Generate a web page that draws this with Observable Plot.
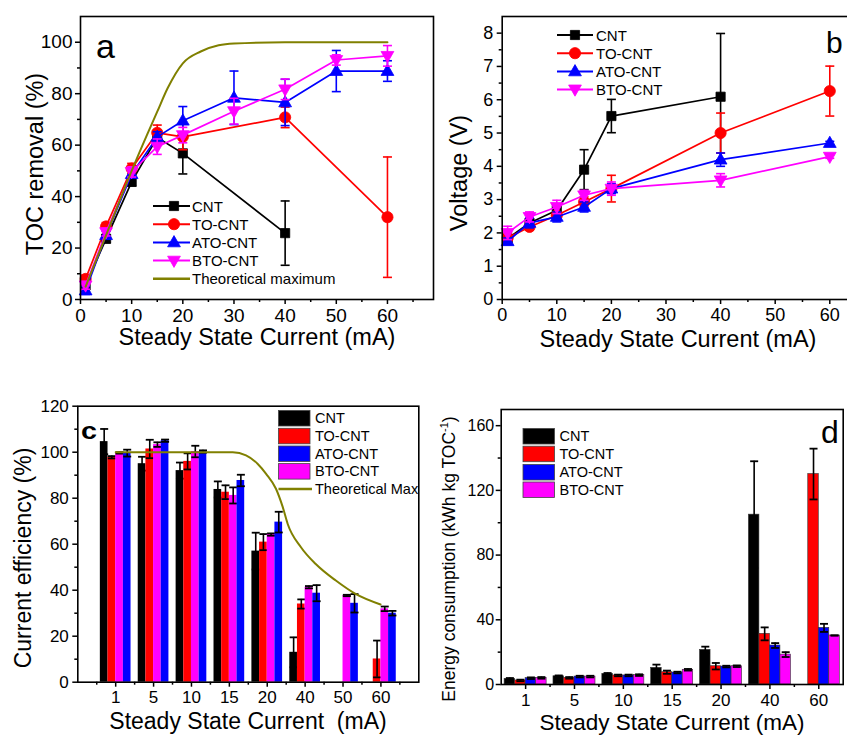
<!DOCTYPE html>
<html><head><meta charset="utf-8">
<script src="https://cdn.jsdelivr.net/npm/d3@7"></script>
<script src="https://cdn.jsdelivr.net/npm/@observablehq/plot@0.6"></script>
<style>
body{margin:0;background:#fff;}
#root{position:relative;width:847px;height:735px;overflow:hidden;background:#fff;}
#root svg{position:absolute;}
</style></head><body><div id="root"></div>
<script>
// ---------------- DATA ----------------
const seriesNames = ["CNT", "TO-CNT", "ATO-CNT", "BTO-CNT"];

// Panel a: TOC removal (%)
const tocCNT_x = [1, 5, 10, 15, 20, 40];
const tocCNT   = [5.5, 23.6, 45.7, 63, 56.8, 25.8];
const tocCNT_e = [2.5, 1.5, 1.5, 2.5, 8, 12.5];
const tocTO_x  = [1, 5, 10, 15, 20, 40, 60];
const tocTO    = [8, 28.4, 50.9, 64.8, 63.2, 70.8, 32];
const tocTO_e  = [1.5, 1.5, 2, 3, 5, 4, 23.4];
const tocATO_x = [1, 5, 10, 15, 20, 30, 40, 50, 60];
const tocATO   = [3.5, 25, 48.7, 63.2, 69.5, 78.4, 76.6, 88.8, 88.8];
const tocATO_e = [1.5, 1.5, 1.5, 2, 5.5, 10.4, 9, 8, 4];
const tocBTO_x = [1, 5, 10, 15, 20, 30, 40, 50, 60];
const tocBTO   = [5.5, 26.2, 49.6, 59.4, 63.9, 73.2, 81.7, 93.1, 94.7];
const tocBTO_e = [1.5, 1.5, 2, 3, 3, 5, 4, 2, 4];
const tocTheo_x = [1, 5, 10, 13, 15, 17, 20, 23.5, 27, 30, 40, 50, 60];
const tocTheo   = [5, 25, 50, 64, 73, 82, 91.8, 96.4, 98.8, 99.5, 100, 100, 100];

// Panel b: Voltage (V)
const vCNT_x = [1, 5, 10, 15, 20, 40];
const vCNT   = [1.83, 2.3, 2.68, 3.9, 5.51, 6.09];
const vCNT_e = [0.1, 0.1, 0.15, 0.6, 0.5, 1.9];
const vX     = [1, 5, 10, 15, 20, 40, 60];
const vTO    = [1.85, 2.18, 2.53, 2.93, 3.33, 5.0, 6.26];
const vTO_e  = [0.15, 0.1, 0.1, 0.15, 0.4, 0.6, 0.75];
const vATO   = [1.75, 2.3, 2.48, 2.78, 3.33, 4.2, 4.7];
const vATO_e = [0.1, 0.15, 0.15, 0.15, 0.15, 0.2, 0.05];
const vBTO   = [2.0, 2.48, 2.78, 3.13, 3.33, 3.58, 4.29];
const vBTO_e = [0.2, 0.15, 0.2, 0.15, 0.2, 0.2, 0.05];

// Panel c: Current efficiency (%)
const ceCats = ["1", "5", "10", "15", "20", "40", "50", "60"];
const ceCNT   = [104.6, 95, 92, 83.8, 57, 13, null, null];
const ceCNT_e = [5.5, 3, 3.5, 3.5, 8, 6.5, null, null];
const ceTO    = [97.8, 101.4, 96, 82.6, 60.9, 34, null, 10.1];
const ceTO_e  = [0.5, 4, 3.5, 3, 3.5, 2, null, 8];
const ceATO   = [99.6, 105, 100.3, 87.7, 69.6, 38.7, 34.3, 30];
const ceATO_e = [1.5, 0.5, 0.5, 2.5, 4.5, 3.5, 4, 1];
const ceBTO   = [99.7, 103.3, 100.3, 81.2, 64.2, 41.3, 37.7, 31.9];
const ceBTO_e = [0.3, 1, 2.5, 3.5, 0.5, 0.5, 0.3, 1];
const ceTheo_i = [1, 2, 3, 4.09, 4.44, 4.75, 4.97, 5.23, 5.41, 5.54, 5.89, 6.28, 6.81, 7.33, 7.99];
const ceTheo   = [100, 100, 100, 100, 98.6, 94.9, 90.6, 84.1, 76.1, 68.8, 58.7, 51.4, 44.2, 38.4, 33.8];

// Panel d: Energy consumption (kWh kg TOC-1)
const enCats = ["1", "5", "10", "15", "20", "40", "60"];
const enCNT   = [3.5, 5.1, 6.6, 10.3, 21.4, 105, null];
const enCNT_e = [0.5, 0.5, 0.5, 2, 2, 33, null];
const enTO    = [2.5, 4.1, 5.6, 7.6, 11.3, 31.3, 130.1];
const enTO_e  = [0.5, 0.5, 0.5, 1, 2, 4, 15.7];
const enATO   = [3.9, 4.9, 5.6, 7.4, 11.1, 24.1, 35];
const enATO_e = [0.5, 0.5, 0.5, 0.5, 0.5, 1.5, 2.5];
const enBTO   = [4.1, 4.9, 5.8, 9.1, 11.3, 18.5, 30.3];
const enBTO_e = [0.5, 0.5, 0.5, 0.5, 0.5, 1.5, 0];

// ---------------- STYLE ----------------
const FONT = "'Liberation Sans', Arial, Helvetica, sans-serif";
const BLK = "#000000", RED = "#ff0000", BLU = "#0000ff", MAG = "#ff00ff", OLV = "#808000";
const root = document.getElementById("root");

const symSquare = {draw(c) { c.rect(-4.6, -4.6, 9.2, 9.2); }};
const symCircle = {draw(c) { c.moveTo(5.6, 0); c.arc(0, 0, 5.6, 0, 2 * Math.PI); }};
const symTriUp  = {draw(c) { c.moveTo(0, -6.8); c.lineTo(6.4, 4.4); c.lineTo(-6.4, 4.4); c.closePath(); }};
const symTriDn  = {draw(c) { c.moveTo(0, 6.8); c.lineTo(6.4, -4.4); c.lineTo(-6.4, -4.4); c.closePath(); }};
const cap = w => ({draw(c) { c.moveTo(-w, 0); c.lineTo(w, 0); }});

const baseStyle = {fontFamily: FONT, color: "black", background: "transparent", overflow: "visible"};

function lineSeries(xs, ys, es, color, sym) {
  const rows = xs.map((x, i) => ({x, y: ys[i], lo: ys[i] - es[i], hi: ys[i] + es[i]}));
  return [
    Plot.line(rows, {x: "x", y: "y", stroke: color, strokeWidth: 1.7}),
    Plot.ruleX(rows, {x: "x", y1: "lo", y2: "hi", stroke: color, strokeWidth: 1.6}),
    Plot.dot(rows, {x: "x", y: "lo", symbol: cap(4.5), stroke: color, fill: "none", strokeWidth: 1.6}),
    Plot.dot(rows, {x: "x", y: "hi", symbol: cap(4.5), stroke: color, fill: "none", strokeWidth: 1.6}),
    Plot.dot(rows, {x: "x", y: "y", symbol: sym, fill: color, stroke: color, strokeWidth: 0.8})
  ];
}

function barSeries(vals, errs, color, slot, groupW, edge) {
  const bw = groupW / 4;
  const rows = vals.map((v, i) => ({i: i + 1, v, e: errs[i]})).filter(d => d.v != null);
  const x1 = d => d.i - groupW / 2 + slot * bw;
  const x2 = d => d.i - groupW / 2 + (slot + 1) * bw;
  const xc = d => d.i - groupW / 2 + (slot + 0.5) * bw;
  return [
    Plot.rect(rows, {x1, x2, y1: 0, y2: "v", fill: color, stroke: edge ? "#333" : "none", strokeWidth: 0.6}),
    Plot.ruleX(rows, {x: xc, y1: d => d.v - d.e, y2: d => d.v + d.e, stroke: BLK, strokeWidth: 1.6}),
    Plot.dot(rows, {x: xc, y: d => d.v + d.e, symbol: cap(4), stroke: BLK, fill: "none", strokeWidth: 1.8}),
    Plot.dot(rows, {x: xc, y: d => d.v - d.e, symbol: cap(4), stroke: BLK, fill: "none", strokeWidth: 1.8})
  ];
}

function place(node, left, top) {
  node.style.left = left + "px";
  node.style.top = top + "px";
  root.appendChild(node);
}

// ---------------- PANEL A ----------------
const plotA = Plot.plot({
  width: 440, height: 360,
  marginLeft: 80, marginRight: 7, marginTop: 16, marginBottom: 61,
  x: {domain: [0, 69]}, y: {domain: [0, 110]},
  style: baseStyle,
  marks: [
    Plot.axisX(d3.range(0, 61, 10), {tickSize: 5, tickPadding: 4, fontSize: 19, strokeWidth: 1.5, label: null}),
    Plot.axisX(d3.range(5, 66, 10), {tickSize: 3, strokeWidth: 1.5, tickFormat: () => "", label: null}),
    Plot.axisY(d3.range(0, 101, 20), {tickSize: 5, tickPadding: 3, fontSize: 19, strokeWidth: 1.5, label: null}),
    Plot.axisY(d3.range(10, 101, 20), {tickSize: 3, strokeWidth: 1.5, tickFormat: () => "", label: null}),
    ...lineSeries(tocCNT_x, tocCNT, tocCNT_e, BLK, symSquare),
    ...lineSeries(tocTO_x, tocTO, tocTO_e, RED, symCircle),
    ...lineSeries(tocATO_x, tocATO, tocATO_e, BLU, symTriUp),
    ...lineSeries(tocBTO_x, tocBTO, tocBTO_e, MAG, symTriDn),
    Plot.line(tocTheo_x.map((x, i) => ({x, y: tocTheo[i]})), {x: "x", y: "y", stroke: OLV, strokeWidth: 2, curve: "monotone-x"}),
    Plot.frame({stroke: BLK, strokeWidth: 1.6})
  ]
});
place(plotA, 0, 0);

// ---------------- PANEL B ----------------
const plotB = Plot.plot({
  width: 420, height: 360,
  marginLeft: 61.7, marginRight: 11.6, marginTop: 16, marginBottom: 61,
  x: {domain: [0, 63.5]}, y: {domain: [0, 8.5]},
  style: baseStyle,
  marks: [
    Plot.axisX(d3.range(0, 61, 10), {tickSize: 5, tickPadding: 4, fontSize: 18, strokeWidth: 1.5, label: null}),
    Plot.axisX(d3.range(5, 66, 10), {tickSize: 3, strokeWidth: 1.5, tickFormat: () => "", label: null}),
    Plot.axisY(d3.range(0, 9, 1), {tickSize: 5, tickPadding: 4, fontSize: 18, strokeWidth: 1.5, label: null}),
    Plot.axisY(d3.range(0.5, 8.5, 1), {tickSize: 3, strokeWidth: 1.5, tickFormat: () => "", label: null}),
    ...lineSeries(vCNT_x, vCNT, vCNT_e, BLK, symSquare),
    ...lineSeries(vX, vTO, vTO_e, RED, symCircle),
    ...lineSeries(vX, vATO, vATO_e, BLU, symTriUp),
    ...lineSeries(vX, vBTO, vBTO_e, MAG, symTriDn),
    Plot.frame({stroke: BLK, strokeWidth: 1.6})
  ]
});
place(plotB, 440, 0);

// ---------------- PANEL C ----------------
const gC = 0.81;
const plotC = Plot.plot({
  width: 430, height: 365,
  marginLeft: 77.3, marginRight: 11.7, marginTop: 35.7, marginBottom: 53.3,
  x: {domain: [0, 9]}, y: {domain: [0, 120]},
  style: baseStyle,
  marks: [
    Plot.axisX(d3.range(1, 9), {tickSize: 5, tickPadding: 4, fontSize: 17, strokeWidth: 1.5, label: null, tickFormat: i => ceCats[i - 1]}),
    Plot.axisX(d3.range(0.5, 9, 1), {tickSize: 3, strokeWidth: 1.5, tickFormat: () => "", label: null}),
    Plot.axisY(d3.range(0, 121, 20), {tickSize: 5, tickPadding: 4, fontSize: 17, strokeWidth: 1.5, label: null}),
    Plot.axisY(d3.range(10, 120, 20), {tickSize: 3, strokeWidth: 1.5, tickFormat: () => "", label: null}),
    ...barSeries(ceCNT, ceCNT_e, BLK, 0, gC, false),
    ...barSeries(ceTO, ceTO_e, RED, 1, gC, false),
    ...barSeries(ceBTO, ceBTO_e, MAG, 2, gC, false),
    ...barSeries(ceATO, ceATO_e, BLU, 3, gC, false),
    Plot.line(ceTheo_i.map((x, i) => ({x, y: ceTheo[i]})), {x: "x", y: "y", stroke: OLV, strokeWidth: 2, curve: "monotone-x"}),
    Plot.frame({stroke: BLK, strokeWidth: 1.6})
  ]
});
place(plotC, 0, 370);

// ---------------- PANEL D ----------------
const gD = 0.86;
const plotD = Plot.plot({
  width: 417, height: 365,
  marginLeft: 70.7, marginRight: 4.3, marginTop: 39, marginBottom: 51,
  x: {domain: [0.5, 7.5]}, y: {domain: [0, 170]},
  style: baseStyle,
  marks: [
    Plot.axisX(d3.range(1, 8), {tickSize: 5, tickPadding: 4, fontSize: 17, strokeWidth: 1.5, label: null, tickFormat: i => enCats[i - 1]}),
    Plot.axisX(d3.range(1.5, 7.5, 1), {tickSize: 3, strokeWidth: 1.5, tickFormat: () => "", label: null}),
    Plot.axisY(d3.range(0, 161, 40), {tickSize: 5, tickPadding: 2, fontSize: 16, strokeWidth: 1.5, label: null}),
    Plot.axisY(d3.range(20, 161, 40), {tickSize: 3, strokeWidth: 1.5, tickFormat: () => "", label: null}),
    ...barSeries(enCNT, enCNT_e, BLK, 0, gD, true),
    ...barSeries(enTO, enTO_e, RED, 1, gD, true),
    ...barSeries(enATO, enATO_e, BLU, 2, gD, true),
    ...barSeries(enBTO, enBTO_e, MAG, 3, gD, true),
    Plot.frame({stroke: BLK, strokeWidth: 1.6})
  ]
});
place(plotD, 430, 370);

// ---------------- OVERLAY: titles, letters, legends ----------------
const ov = d3.create("svg").attr("width", 847).attr("height", 735)
  .style("left", "0px").style("top", "0px").style("font-family", FONT);

function text(x, y, s, size, opts = {}) {
  const t = ov.append("text").attr("x", x).attr("y", y).attr("font-size", size)
    .attr("fill", "black").attr("text-anchor", opts.anchor || "start")
    .attr("dominant-baseline", opts.baseline || "auto").text(s);
  if (opts.weight) t.attr("font-weight", opts.weight);
  if (opts.len) t.attr("textLength", opts.len).attr("lengthAdjust", "spacingAndGlyphs");
  return t;
}
function ytitle(cx, cy, s, size) {
  const g = ov.append("g").attr("transform", `translate(${cx},${cy}) rotate(-90)`);
  return g.append("text").attr("text-anchor", "middle").attr("dy", "0.35em")
    .attr("font-size", size).attr("fill", "black").text(s);
}

// axis titles
text(257, 345, "Steady State Current (mA)", 23.5, {anchor: "middle"});
text(678, 347, "Steady State Current (mA)", 23.5, {anchor: "middle"});
text(248, 729, "Steady State Current  (mA)", 23, {anchor: "middle"}).style("white-space", "pre");
text(672, 729.5, "Steady State Current (mA)", 22.5, {anchor: "middle"});
ytitle(35, 164, "TOC removal (%)", 23.5);
ytitle(459, 173, "Voltage (V)", 23.5);
ytitle(23, 558, "Current efficiency (%)", 23);
{
  const t = ytitle(449, 559, "", 17.5);
  t.append("tspan").text("Energy consumption (kWh kg TOC");
  t.append("tspan").attr("font-size", 11).attr("dy", -7).text("-1");
  t.append("tspan").attr("dy", 7).text(")");
}

// panel letters
text(96, 58, "a", 34);
text(826, 53, "b", 30);
text(81, 439, "c", 23, {weight: "bold", len: 16});
text(821, 443, "d", 32);

// line legends (panels a and b)
function lineLegend(x0, x1, mx, tx, ys, items, size) {
  items.forEach((it, k) => {
    const y = ys[k];
    ov.append("line").attr("x1", x0).attr("x2", x1).attr("y1", y).attr("y2", y)
      .attr("stroke", it.color).attr("stroke-width", it.sym ? 2 : 2.5);
    if (it.sym) {
      const p = d3.path(); it.sym.draw(p);
      ov.append("path").attr("d", p.toString()).attr("transform", `translate(${mx},${y})`)
        .attr("fill", it.color).attr("stroke", it.color).attr("stroke-width", 0.8);
    }
    text(tx, y, it.label, size, {baseline: "central"});
  });
}
lineLegend(153, 190, 174, 192, [206, 224.2, 242.4, 260.6, 278.8], [
  {label: seriesNames[0], color: BLK, sym: symSquare},
  {label: seriesNames[1], color: RED, sym: symCircle},
  {label: seriesNames[2], color: BLU, sym: symTriUp},
  {label: seriesNames[3], color: MAG, sym: symTriDn},
  {label: "Theoretical maximum", color: OLV, sym: null}
], 15);
lineLegend(557, 593, 575, 596, [35, 53.2, 71.4, 89.4], [
  {label: seriesNames[0], color: BLK, sym: symSquare},
  {label: seriesNames[1], color: RED, sym: symCircle},
  {label: seriesNames[2], color: BLU, sym: symTriUp},
  {label: seriesNames[3], color: MAG, sym: symTriDn}
], 15);

// swatch legends (panels c and d)
function swatchLegend(x0, w, tx, tops, h, items, size) {
  items.forEach((it, k) => {
    ov.append("rect").attr("x", x0).attr("y", tops[k]).attr("width", w).attr("height", h)
      .attr("fill", it.color).attr("stroke", "#444").attr("stroke-width", 0.8);
    text(tx, tops[k] + h / 2, it.label, size, {baseline: "central"});
  });
}
const swItems = [
  {label: seriesNames[0], color: BLK},
  {label: seriesNames[1], color: RED},
  {label: seriesNames[2], color: BLU},
  {label: seriesNames[3], color: MAG}
];
swatchLegend(278.5, 31.5, 315, [410.5, 428.3, 446, 463.6], 15.5, swItems, 14.5);
ov.append("line").attr("x1", 278.5).attr("x2", 312).attr("y1", 489).attr("y2", 489)
  .attr("stroke", OLV).attr("stroke-width", 2.5);
text(315, 489, "Theoretical Max", 14.5, {baseline: "central"});
swatchLegend(523, 31.5, 559.5, [428.5, 446.2, 464.5, 482], 15.5, swItems, 14.5);

root.appendChild(ov.node());
</script>
</body></html>
